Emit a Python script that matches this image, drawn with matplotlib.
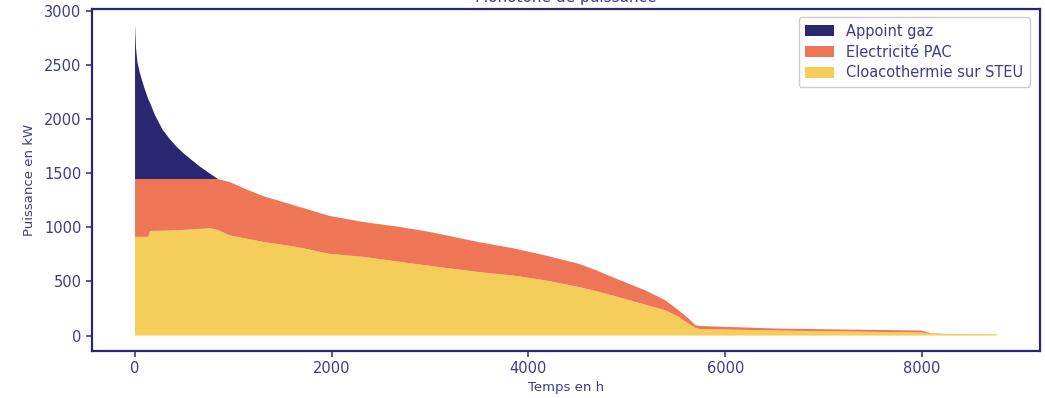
import matplotlib
matplotlib.use("Agg")
import matplotlib.pyplot as plt

# Monotone de puissance
hours = [0, 10, 25, 50, 90, 135, 152, 200, 280, 355,
         420, 490, 570, 659, 761, 842, 963, 1130, 1300, 1640,
         1978, 2315, 2688, 2992, 3499, 3837, 4175, 4513, 4682, 4851,
         5189, 5392, 5527, 5629, 5697, 5750, 6542, 7992, 8093, 8245,
         8760]

appoint_gaz = [1425, 1205, 1075, 975, 855, 735, 705, 595, 455, 367,
               300, 240, 180, 115, 50, 0, 0, 0, 0, 0,
               0, 0, 0, 0, 0, 0, 0, 0, 0, 0,
               0, 0, 0, 0, 0, 0, 0, 0, 0, 0,
               0]

electricite_pac = [534, 534, 534, 534, 534, 534, 479, 479, 477, 475,
                   473, 470, 465, 460, 455, 470, 492, 455, 423, 377,
                   350, 322, 322, 313, 276, 252, 230, 214, 193, 169,
                   132, 92, 61, 46, 25, 28, 18, 18, 4, 2,
                   0]

cloacothermie = [911, 911, 911, 911, 911, 911, 966, 966, 968, 970,
                 972, 975, 980, 985, 990, 975, 925, 895, 865, 819,
                 754, 727, 681, 644, 586, 555, 509, 448, 412, 371,
                 285, 233, 172, 110, 70, 60, 46, 28, 18, 13,
                 12]

labels = ["Appoint gaz", "Electricité PAC", "Cloacothermie sur STEU"]

NAVY = "#2a2671"
ORANGE = "#ee7656"
YELLOW = "#f5cd5a"
TEXT = "#3f3c88"

plt.rcParams["font.family"] = ["DejaVu Sans"]

fig = plt.figure(figsize=(10.45, 3.98), dpi=100)
ax = fig.add_axes([0.088, 0.118, 0.907, 0.859])

# stacked from the bottom: yellow, orange, navy
polys = ax.stackplot(hours, cloacothermie, electricite_pac, appoint_gaz,
                     colors=[YELLOW, ORANGE, NAVY], linewidth=0)

ax.set_xlim(-438, 9198)
ax.set_ylim(-143, 3013)
ax.set_xticks([0, 2000, 4000, 6000, 8000])
ax.set_yticks([0, 500, 1000, 1500, 2000, 2500, 3000])

for s in ax.spines.values():
    s.set_color(NAVY)
    s.set_linewidth(1.6)
ax.tick_params(colors=TEXT, labelsize=10.5, width=1.2, length=4)
for t in ax.get_xticklabels() + ax.get_yticklabels():
    t.set_color(TEXT)

ax.set_xlabel("Temps en h", color=TEXT, fontsize=9.5, labelpad=3)
ax.set_ylabel("Puissance en kW", color=TEXT, fontsize=9.5, labelpad=6)

# title sits mostly above the visible area in the reference
fig.text(0.541, 0.994, "Monotone de puissance", color=TEXT, fontsize=11,
         ha="center", va="baseline")

handles = [polys[2], polys[1], polys[0]]
leg = ax.legend(handles, labels, loc="upper right", fontsize=10.5,
                frameon=True, fancybox=True, framealpha=1,
                handlelength=2.0, handleheight=0.8, handletextpad=0.8,
                borderpad=0.45, labelspacing=0.4,
                bbox_to_anchor=(0.997, 0.998))
leg.get_frame().set_edgecolor("#cccccc")
for t in leg.get_texts():
    t.set_color(TEXT)

fig.savefig("out.png", dpi=100, facecolor="white")
